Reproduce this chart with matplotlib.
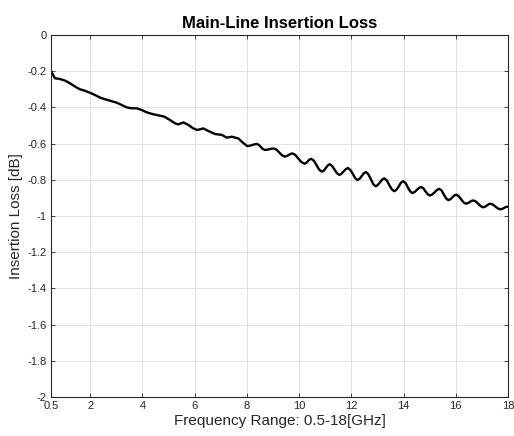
import numpy as np
import matplotlib
matplotlib.use("Agg")
import matplotlib.pyplot as plt

plt.rcParams['font.family'] = ['Liberation Sans', 'DejaVu Sans']

# 频率 (GHz) 与插入损耗 (dB)
freq_ghz = [
    0.50, 0.65, 0.84, 1.04, 1.23, 1.42, 1.61, 1.80, 1.99, 2.18,
    2.38, 2.57, 2.76, 2.89, 3.02, 3.21, 3.40, 3.59, 3.78, 3.97,
    4.16, 4.36, 4.61, 4.84, 5.06, 5.25, 5.37, 5.57, 5.76, 5.95,
    6.10, 6.33, 6.52, 6.78, 7.04, 7.23, 7.42, 7.67, 7.85, 8.02,
    8.11, 8.20, 8.29, 8.38, 8.46, 8.54, 8.61, 8.69, 8.78, 8.86,
    8.95, 9.03, 9.14, 9.25, 9.35, 9.46, 9.53, 9.60, 9.67, 9.74,
    9.86, 9.97, 10.09, 10.20, 10.27, 10.33, 10.40, 10.47, 10.57, 10.67,
    10.77, 10.87, 10.95, 11.02, 11.10, 11.17, 11.26, 11.36, 11.45, 11.54,
    11.62, 11.70, 11.79, 11.87, 11.96, 12.06, 12.15, 12.24, 12.32, 12.40,
    12.48, 12.56, 12.65, 12.75, 12.84, 12.93, 13.01, 13.10, 13.18, 13.26,
    13.36, 13.45, 13.55, 13.64, 13.73, 13.82, 13.90, 13.99, 14.08, 14.16,
    14.25, 14.33, 14.42, 14.50, 14.59, 14.67, 14.76, 14.84, 14.93, 15.01,
    15.10, 15.19, 15.28, 15.37, 15.46, 15.54, 15.63, 15.71, 15.79, 15.87,
    15.94, 16.02, 16.11, 16.20, 16.30, 16.39, 16.46, 16.53, 16.60, 16.67,
    16.77, 16.86, 16.96, 17.05, 17.12, 17.19, 17.26, 17.33, 17.42, 17.52,
    17.61, 17.70, 17.78, 17.85, 17.93, 18.00,
]
loss_db = [
    -0.199, -0.239, -0.243, -0.252, -0.267, -0.285, -0.300, -0.308, -0.319, -0.331,
    -0.346, -0.355, -0.363, -0.368, -0.374, -0.387, -0.400, -0.405, -0.405, -0.414,
    -0.427, -0.436, -0.444, -0.451, -0.470, -0.488, -0.494, -0.483, -0.497, -0.516,
    -0.525, -0.516, -0.530, -0.547, -0.552, -0.567, -0.562, -0.571, -0.595, -0.614,
    -0.612, -0.608, -0.604, -0.602, -0.607, -0.619, -0.630, -0.635, -0.634, -0.631,
    -0.628, -0.627, -0.634, -0.650, -0.665, -0.672, -0.669, -0.663, -0.657, -0.654,
    -0.663, -0.683, -0.702, -0.711, -0.707, -0.698, -0.688, -0.684, -0.695, -0.720,
    -0.744, -0.755, -0.749, -0.735, -0.720, -0.714, -0.723, -0.744, -0.764, -0.773,
    -0.767, -0.754, -0.741, -0.735, -0.745, -0.768, -0.791, -0.801, -0.794, -0.779,
    -0.764, -0.757, -0.769, -0.797, -0.824, -0.836, -0.829, -0.814, -0.799, -0.792,
    -0.803, -0.828, -0.852, -0.863, -0.855, -0.836, -0.816, -0.808, -0.818, -0.841,
    -0.863, -0.873, -0.868, -0.857, -0.845, -0.840, -0.847, -0.864, -0.880, -0.887,
    -0.881, -0.869, -0.856, -0.850, -0.859, -0.881, -0.903, -0.912, -0.908, -0.897,
    -0.887, -0.882, -0.890, -0.907, -0.925, -0.932, -0.929, -0.923, -0.917, -0.914,
    -0.920, -0.933, -0.946, -0.952, -0.949, -0.942, -0.935, -0.932, -0.937, -0.948,
    -0.958, -0.963, -0.961, -0.955, -0.950, -0.948,
]

x_ticks = [0.5, 2, 4, 6, 8, 10, 12, 14, 16, 18]
x_tick_labels = ['0.5', '2', '4', '6', '8', '10', '12', '14', '16', '18']
y_ticks = [0, -0.2, -0.4, -0.6, -0.8, -1, -1.2, -1.4, -1.6, -1.8, -2]
y_tick_labels = ['0', '-0.2', '-0.4', '-0.6', '-0.8', '-1', '-1.2', '-1.4', '-1.6', '-1.8', '-2']

axis_gray = '#262626'

fig = plt.figure(figsize=(5.14, 4.36), dpi=100)
ax = fig.add_axes([51 / 514, 39 / 436, 457 / 514, 362 / 436])

ax.plot(freq_ghz, loss_db, color='black', linewidth=1.7,
        solid_joinstyle='round', solid_capstyle='round')

ax.set_xlim(0.5, 18)
ax.set_ylim(-2, 0)
ax.set_xticks(x_ticks)
ax.set_xticklabels(x_tick_labels)
ax.set_yticks(y_ticks)
ax.set_yticklabels(y_tick_labels)

# MATLAB 风格：刻度朝内、四边框、浅灰网格
ax.tick_params(direction='in', length=3, width=0.6, colors=axis_gray,
               labelsize=8, top=True, right=True, labeltop=False, labelright=False)
ax.tick_params(axis='x', pad=3)
ax.tick_params(axis='y', pad=3)
for side in ax.spines.values():
    side.set_color(axis_gray)
    side.set_linewidth(0.8)
ax.grid(True, color='#e2e2e2', linewidth=0.7)
ax.set_axisbelow(True)

ax.set_title('Main-Line Insertion Loss', fontsize=12, fontweight='bold',
             color='black', pad=5)
ax.set_xlabel('Frequency Range: 0.5-18[GHz]', fontsize=11, color=axis_gray, labelpad=2)
ax.set_ylabel('Insertion Loss [dB]', fontsize=11, color=axis_gray, labelpad=3)

fig.savefig('out.png', dpi=100, facecolor='white')
